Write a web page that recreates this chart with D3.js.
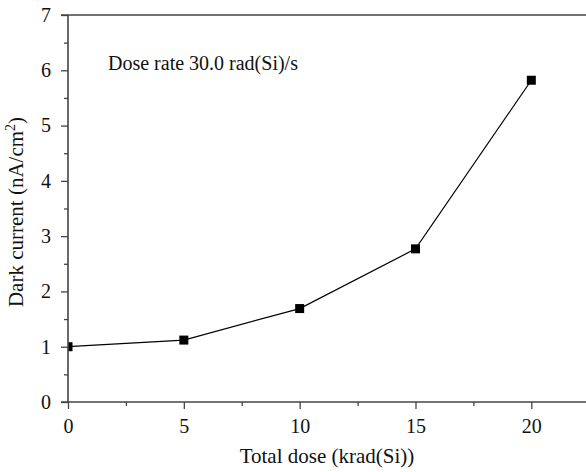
<!DOCTYPE html>
<html>
<head>
<meta charset="utf-8">
<script src="https://d3js.org/d3.v7.min.js"></script>
<style>
  body { margin: 0; background: #fff; }
  text { font-family: "Liberation Serif", "DejaVu Serif", serif; fill: #111; }
</style>
</head>
<body>
<div id="graph"></div>
<script>
// data
var doses = [0, 5, 10, 15, 20];                 // krad(Si)
var current = [1.0, 1.12, 1.69, 2.77, 5.82];   // nA/cm^2
var xTicks = [0, 5, 10, 15, 20];
var yTicks = [0, 1, 2, 3, 4, 5, 6, 7];

const fullwidth = 586;
const fullheight = 472;
const padLeft = 68, padRight = 586, padTop = 15, padBottom = 402;

var xScale = d3.scaleLinear().domain([0, 22.36]).range([padLeft, padRight]);
var yScale = d3.scaleLinear().domain([0, 7]).range([padBottom, padTop]);

var svg = d3.select("#graph").append("svg")
  .attr("width", fullwidth)
  .attr("height", fullheight);

svg.append("clipPath").attr("id", "plotclip")
  .append("rect")
  .attr("x", padLeft).attr("y", padTop)
  .attr("width", padRight - padLeft).attr("height", padBottom - padTop);

//minor ticks first, then major axis
var xMinor = d3.axisBottom(xScale).tickValues(d3.range(2.5, 22.36, 5)).tickSize(4).tickFormat("");
var yMinor = d3.axisLeft(yScale).tickValues(d3.range(0.5, 7, 1)).tickSize(4).tickFormat("");

svg.append("g").attr("transform", "translate(0," + padBottom + ")").call(xMinor);
svg.append("g").attr("transform", "translate(" + padLeft + ",0)").call(yMinor);

var xAxis = d3.axisBottom(xScale).tickValues(xTicks).tickSize(7).tickPadding(10).tickFormat(d3.format("d"));
var yAxis = d3.axisLeft(yScale).tickValues(yTicks).tickSize(7).tickPadding(10).tickFormat(d3.format("d"));

svg.append("g").attr("class", "axis")
  .attr("transform", "translate(0," + padBottom + ")").call(xAxis);
svg.append("g").attr("class", "axis")
  .attr("transform", "translate(" + padLeft + ",0)").call(yAxis);

svg.selectAll(".domain").remove();
svg.selectAll(".tick line").attr("stroke", "#444").attr("stroke-width", 1.3);
svg.selectAll(".axis text")
  .style("font-size", "20px")
  .style("font-family", "'Liberation Serif', serif")
  .attr("fill", "#111");

//frame lines (bottom, top)
svg.append("line").attr("x1", padLeft - 7).attr("x2", padRight).attr("y1", padBottom).attr("y2", padBottom)
  .attr("stroke", "#444").attr("stroke-width", 1.6);
svg.append("line").attr("x1", padLeft - 7).attr("x2", padRight).attr("y1", padTop).attr("y2", padTop)
  .attr("stroke", "#444").attr("stroke-width", 1.6);

//data line and markers
var line = d3.line()
  .x((d, i) => xScale(doses[i]))
  .y((d, i) => yScale(d));

svg.append("path")
  .datum(current)
  .attr("d", line)
  .attr("fill", "none")
  .attr("stroke", "#000")
  .attr("stroke-width", 1.2);

svg.append("g")
  .attr("clip-path", "url(#plotclip)")
  .selectAll("rect")
  .data(current)
  .enter().append("rect")
    .attr("x", (d, i) => xScale(doses[i]) - 4.5)
    .attr("y", d => yScale(d) - 4.5)
    .attr("width", 9)
    .attr("height", 9)
    .attr("fill", "#000");

//left axis line drawn over the clipped first marker
svg.append("line").attr("x1", padLeft).attr("x2", padLeft).attr("y1", padTop).attr("y2", padBottom)
  .attr("stroke", "#444").attr("stroke-width", 1.6);

//annotation
svg.append("text")
  .attr("x", 108).attr("y", 70)
  .style("font-size", "20px")
  .text("Dose rate 30.0 rad(Si)/s");

//axis titles
svg.append("text")
  .attr("x", (padLeft + padRight) / 2).attr("y", 463)
  .attr("text-anchor", "middle")
  .style("font-size", "21px")
  .text("Total dose (krad(Si))");

var yt = svg.append("text")
  .attr("transform", "translate(23,212) rotate(-90)")
  .attr("text-anchor", "middle")
  .style("font-size", "21px");
yt.append("tspan").text("Dark current (nA/cm");
yt.append("tspan").attr("dy", -8).style("font-size", "14px").text("2");
yt.append("tspan").attr("dy", 8).text(")");
</script>
</body>
</html>
